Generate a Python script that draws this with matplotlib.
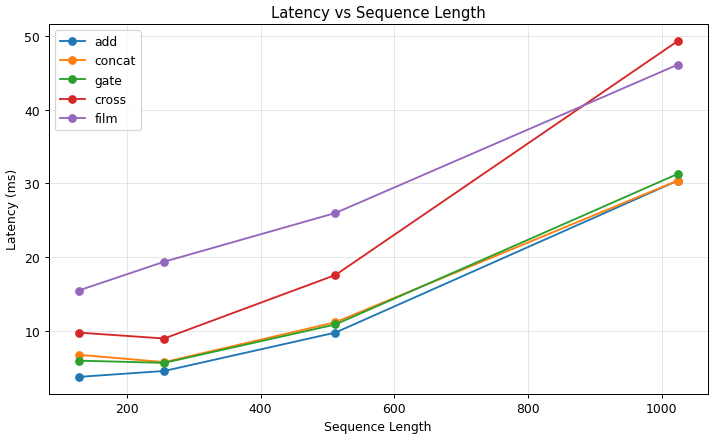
import matplotlib
matplotlib.use("Agg")
import matplotlib.pyplot as plt

seq_len = [128, 256, 512, 1024]
add = [3.8, 4.6, 9.8, 30.4]
concat = [6.8, 5.8, 11.2, 30.4]
gate = [6.0, 5.7, 10.9, 31.3]
cross = [9.8, 9.0, 17.6, 49.3]
film = [15.5, 19.4, 26.0, 46.1]

series = {"add": add, "concat": concat, "gate": gate, "cross": cross, "film": film}

fig, ax = plt.subplots(figsize=(8, 4.922), dpi=89.375)
for name, vals in series.items():
    ax.plot(seq_len, vals, marker="o", label=name)

ax.set_xlabel("Sequence Length")
ax.set_ylabel("Latency (ms)")
ax.set_title("Latency vs Sequence Length")
ax.grid(True, alpha=0.3)
ax.legend(loc="upper left")
fig.subplots_adjust(left=0.068, right=0.990, top=0.943, bottom=0.103)
fig.savefig("out.png")
